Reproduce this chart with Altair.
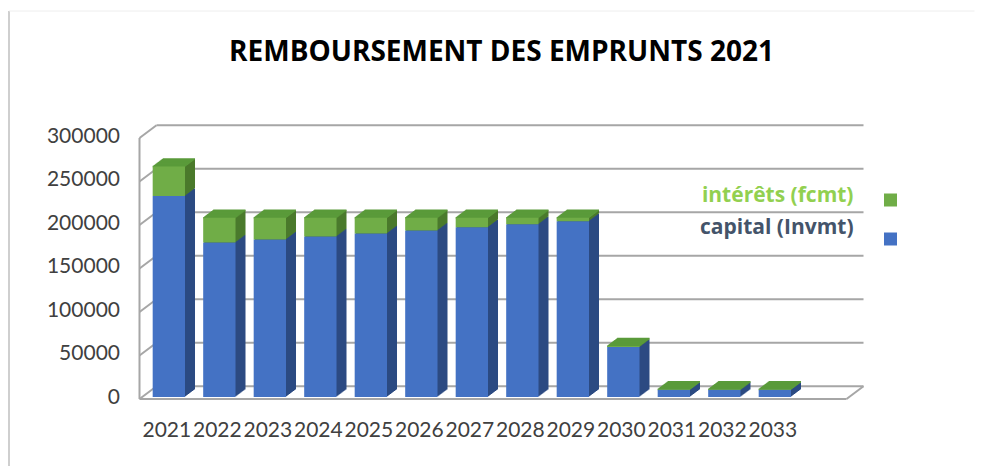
import altair as alt
import pandas as pd

# ---------------- data ----------------
years = ["2021", "2022", "2023", "2024", "2025", "2026", "2027",
         "2028", "2029", "2030", "2031", "2032", "2033"]
capital = [231000, 177500, 181000, 184500, 188000, 191500, 195000,
           198500, 202000, 57500, 8300, 8300, 8300]
interets = [34000, 28500, 25000, 21500, 18000, 14500, 11000,
            7500, 4000, 1000, 500, 500, 500]
series = ["intérêts (fcmt)", "capital (Invmt)"]
y_ticks = [0, 50000, 100000, 150000, 200000, 250000, 300000]
title_text = "REMBOURSEMENT DES EMPRUNTS 2021"

# ---------------- style ----------------
W, H = 707, 261
BAR_DX, BAR_DY = 10, 0.75          # bar depth per step
WALL_DX, WALL_DY = 17, 10.8        # wall depth
FRONT_BLUE, SIDE_BLUE = "#4472C4", "#2C4B82"
FRONT_GREEN, TOP_GREEN, SIDE_GREEN = "#70AD47", "#5A9A3A", "#4B7A2C"
TEXT_COLORS = ["#92D050", "#44546A"]
SWATCH = [FRONT_GREEN, FRONT_BLUE]
GRID = "#A6A6A6"
FONT = "Lato"

df = pd.DataFrame({"year": years, "capital": capital, "interets": interets})
df["total"] = df["capital"] + df["interets"]
df["base"] = 0
ticks_df = pd.DataFrame({"v": y_ticks})
ext_df = pd.DataFrame({"lo": [y_ticks[0]], "hi": [y_ticks[-1]]})

x_axis = alt.Axis(labelAngle=0, domain=False, ticks=False, labelPadding=22,
                  labelFont=FONT, labelFontSize=21, labelColor="#404040",
                  labelOverlap=False, labelOffset=-2)
y_axis = alt.Axis(values=y_ticks, format="d", domain=False, ticks=False, grid=False,
                  labelPadding=20, labelFont=FONT, labelFontSize=21,
                  labelColor="#404040")


def X():
    return alt.X("year:N", title=None, sort=years,
                 scale=alt.Scale(paddingInner=0.36, paddingOuter=0.68, align=0.192),
                 axis=x_axis)


def Y(field):
    return alt.Y(f"{field}:Q", title=None,
                 scale=alt.Scale(domain=[0, 300000], nice=False), axis=y_axis)


layers = []

# back wall gridlines
layers.append(alt.Chart(ticks_df).mark_rule(color=GRID, strokeWidth=2, yOffset=-WALL_DY)
              .encode(y=Y("v"), x=alt.value(WALL_DX), x2=alt.value(W + WALL_DX)))
# left wall slanted ticks
layers.append(alt.Chart(ticks_df).mark_rule(color=GRID, strokeWidth=2, yOffset=2,
                                            y2Offset=-WALL_DY)
              .encode(y=Y("v"), y2=alt.Y2("v:Q"), x=alt.value(0), x2=alt.value(WALL_DX)))
# left wall front vertical
layers.append(alt.Chart(ext_df).mark_rule(color=GRID, strokeWidth=2, yOffset=2, y2Offset=2)
              .encode(y=Y("hi"), y2=alt.Y2("lo:Q"), x=alt.value(0)))
# floor front edge
layers.append(alt.Chart(ext_df).mark_rule(color=GRID, strokeWidth=2, yOffset=2)
              .encode(y=Y("lo"), x=alt.value(0), x2=alt.value(W)))
# floor right edge
layers.append(alt.Chart(ext_df).mark_rule(color=GRID, strokeWidth=2, yOffset=2,
                                          y2Offset=-WALL_DY)
              .encode(y=Y("lo"), y2=alt.Y2("lo:Q"), x=alt.value(W), x2=alt.value(W + WALL_DX)))

# bar extrusions (sides)
for k in range(BAR_DX, 0, -1):
    d = BAR_DY * k
    layers.append(alt.Chart(df).mark_bar(color=SIDE_BLUE, xOffset=k, x2Offset=k,
                                         yOffset=-d, y2Offset=-d)
                  .encode(x=X(), y=Y("capital"), y2=alt.Y2("base:Q")))
for k in range(BAR_DX, 0, -1):
    d = BAR_DY * k
    layers.append(alt.Chart(df).mark_bar(color=SIDE_GREEN, xOffset=k, x2Offset=k,
                                         yOffset=-d, y2Offset=-d)
                  .encode(x=X(), y=Y("total"), y2=alt.Y2("capital:Q")))
# top faces
for k in range(BAR_DX, -1, -1):
    d = BAR_DY * k
    layers.append(alt.Chart(df).mark_bar(color=TOP_GREEN, xOffset=k, x2Offset=k,
                                         yOffset=-d - 0.8, y2Offset=-d + 0.8)
                  .encode(x=X(), y=Y("total"), y2=alt.Y2("total:Q")))
# front faces
layers.append(alt.Chart(df).mark_bar(color=FRONT_BLUE)
              .encode(x=X(), y=Y("capital"), y2=alt.Y2("base:Q")))
layers.append(alt.Chart(df).mark_bar(color=FRONT_GREEN)
              .encode(x=X(), y=Y("total"), y2=alt.Y2("capital:Q")))

# legend (text left, swatch right)
text_y = [60, 92]
swatch_y = [64, 103]
for i, name in enumerate(series):
    ldf = pd.DataFrame({"name": [name]})
    layers.append(alt.Chart(ldf).mark_text(align="right", baseline="middle",
                                           font="Open Sans", fontSize=21,
                                           fontWeight="bold", color=TEXT_COLORS[i])
                  .encode(text="name:N", x=alt.value(714), y=alt.value(text_y[i])))
    layers.append(alt.Chart(ldf).mark_square(size=169, color=SWATCH[i], opacity=1)
                  .encode(x=alt.value(751), y=alt.value(swatch_y[i])))

# title
tdf = pd.DataFrame({"t": [title_text]})
layers.append(alt.Chart(tdf).mark_text(align="center", baseline="alphabetic",
                                       font="Open Sans", fontSize=28, fontWeight="bold",
                                       color="#000000")
              .encode(text="t:N", x=alt.value(362), y=alt.value(-75)))

# chart frame lines
frame_df = pd.DataFrame({"a": [0]})
layers.append(alt.Chart(frame_df).mark_rule(color="#BFBFBF", strokeWidth=1.5)
              .encode(x=alt.value(-130.5), y=alt.value(-125), y2=alt.value(330)))
layers.append(alt.Chart(frame_df).mark_rule(color="#EEEEEE", strokeWidth=1)
              .encode(x=alt.value(-130.5), x2=alt.value(835), y=alt.value(-125)))

chart = alt.layer(*layers).properties(
    width=W, height=H,
    autosize=alt.AutoSizeParams(type="none"),
    padding={"left": 131.5, "top": 128, "right": 128, "bottom": 69},
).configure_view(stroke=None)

chart.save("out.html", embed_options={"renderer": "svg", "actions": False})
